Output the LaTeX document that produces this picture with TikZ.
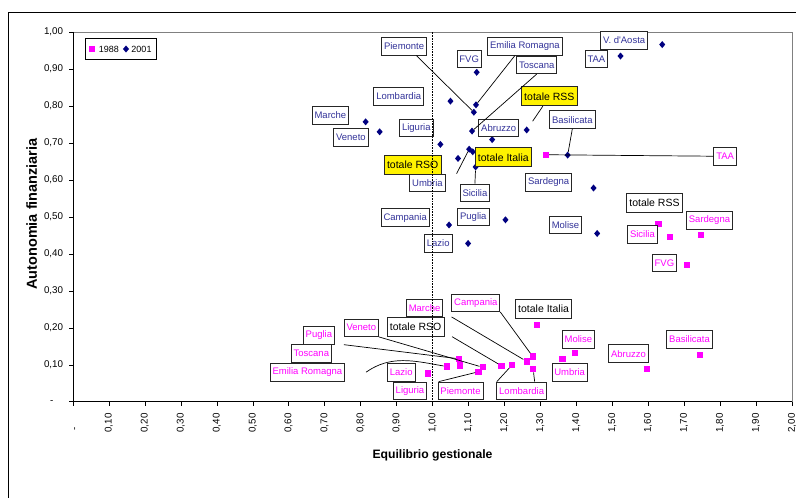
\documentclass[tikz,border=0pt]{standalone}
\usepackage{fontspec}
\setmainfont{Liberation Sans}
\usetikzlibrary{shapes.geometric,positioning}
\definecolor{navymark}{RGB}{0,0,128}
\definecolor{navytext}{RGB}{51,51,153}
\definecolor{pinkmark}{RGB}{255,0,255}
\definecolor{framegray}{RGB}{128,128,128}

\begin{document}
\begin{tikzpicture}[x=359.5pt, y=369.7pt,
    dia/.style={diamond, fill=navymark, inner sep=0pt, minimum width=6.2pt, minimum height=7.2pt},
    sq/.style={rectangle, fill=pinkmark, inner sep=0pt, minimum size=6.3pt},
    lab/.style={draw=black!85, line width=0.8pt, fill=white, inner xsep=2.4pt, inner ysep=0pt,
      minimum height=17.5pt, font=\fontsize{9.5}{11}\selectfont},
    lab01/.style={lab, text=navytext},
    lab88/.style={lab, text=pinkmark},
    tot/.style={lab, text=black, minimum height=19pt, inner xsep=2.7pt, font=\fontsize{10.5}{12}\selectfont},
    tot01/.style={tot, fill=yellow},
    lead/.style={line width=0.7pt, black},
    ylab/.style={anchor=east, inner xsep=5.7pt, inner ysep=0pt, font=\fontsize{9.8}{11}\selectfont},
    xlab/.style={anchor=east, rotate=90, inner xsep=7.6pt, inner ysep=0pt, font=\fontsize{9.8}{11}\selectfont},
    legt/.style={inner sep=0pt, font=\fontsize{9}{10}\selectfont}]
  \useasboundingbox (-73pt,-96.3pt) rectangle (723pt,401.7pt);
  % chart frame, plot area, axes
  \draw [line width=0.9pt] (-64.5pt,-96.3pt) -- (-64.5pt,389.7pt) -- (723pt,389.7pt);
  \draw [framegray, line width=0.8pt] (0,1) -- (2,1) -- (2,0);
  \draw [line width=0.9pt] (0,1) -- (0,0) -- (2,0);
  \foreach \i in {1,...,9} {
    \draw (0,\i/10) -- ++(-4pt,0) node [ylab] {0,\i0};
    \draw (\i/10,0) -- ++(0,-4pt) node [xlab] {0,\i0};
    \draw (1+\i/10,0) -- ++(0,-4pt) node [xlab] {1,\i0};
  }
  \draw (0,1) -- ++(-4pt,0) node [ylab] {1,00};
  \draw (1,0) -- ++(0,-4pt) node [xlab] {1,00};
  \draw (2,0) -- ++(0,-4pt) node [xlab] {2,00};
  \draw (0,0) -- ++(0,-4pt);
  \draw (0,0) -- ++(-4pt,0);
  \node [font=\fontsize{9.8}{11}\selectfont, inner sep=0pt] (yzero) at ([xshift=-21.3pt]0,0) {-};
  \node [font=\fontsize{9.8}{11}\selectfont, inner sep=0pt, rotate=90] (xzero) at ([shift={(3pt,-27.3pt)}]0,0) {-};
  \node [rotate=90, font=\bfseries\fontsize{14.5}{16}\selectfont] (ytitle) at (-0.1149,0.5077) {Autonomia finanziaria};
  \node [font=\bfseries\fontsize{12.2}{14}\selectfont] (xtitle) at (1.0,-0.144) {Equilibrio gestionale};
  % legend
  \draw [line width=0.7pt] (0.0353,0.927) rectangle (0.2309,0.983);
  \node [sq] (leg88) at (0.0529,0.954) {};
  \node [legt, right=3.2pt of leg88] (leg88t) {1988};
  \node [dia] (leg01) at (0.1474,0.954) {};
  \node [legt, right=2pt of leg01] (leg01t) {2001};
  % 2001
  \foreach \n/\x/\y in {vda01/1.639/0.966, taa01/1.523/0.935, fvg01/1.123/0.891,
      lomb01/1.050/0.813, emil01/1.121/0.803, piem01/1.115/0.783, marc01/0.814/0.757,
      vene01/0.853/0.730, tosc01/1.110/0.732, rss01/1.262/0.735, abru01/1.166/0.709,
      ligu01/1.022/0.696, umbr01/1.102/0.683, ital01/1.112/0.676, rso01/1.071/0.658,
      sici01/1.120/0.635, basi01/1.376/0.667, sard01/1.448/0.578, camp01/1.046/0.478,
      pugl01/1.203/0.492, lazi01/1.099/0.428, moli01/1.458/0.455}
    \node [dia] (\n) at (\x,\y) {};
  % 1988
  \foreach \n/\x/\y in {pugl88/1.074/0.116, tosc88/1.077/0.098, emil88/1.040/0.095,
      lazi88/0.988/0.076, vene88/1.140/0.093, ligu88/1.128/0.081, rso88/1.192/0.097,
      piem88/1.222/0.100, marc88/1.262/0.109, camp88/1.279/0.122, lomb88/1.280/0.088,
      ital88/1.291/0.2075, moli88/1.397/0.131, umbr88/1.362/0.115, abru88/1.596/0.088,
      basi88/1.745/0.1255, fvg88/1.707/0.369, sard88/1.746/0.450, sici88/1.661/0.4455,
      rss88/1.629/0.4815, taa88/1.315/0.668}
    \node [sq] (\n) at (\x,\y) {};
  % labels 2001
  \node [lab01] (piem01l) at (0.921,0.961) {Piemonte};
  \node [lab01] (fvg01l) at (1.102,0.9275) {FVG};
  \node [lab01] (emil01l) at (1.257,0.961) {Emilia Romagna};
  \node [lab01] (tosc01l) at (1.290,0.911) {Toscana};
  \node [lab01] (lomb01l) at (0.906,0.826) {Lombardia};
  \node [lab01] (marc01l) at (0.716,0.774) {Marche};
  \node [lab01] (vene01l) at (0.773,0.715) {Veneto};
  \node [lab01] (ligu01l) at (0.955,0.740) {Liguria};
  \node [lab01] (abru01l) at (1.184,0.741) {Abruzzo};
  \node [tot01] (rss01l) at (1.325,0.826) {totale RSS};
  \node [tot01] (ital01l) at (1.197,0.661) {totale Italia};
  \node [tot01] (rso01l) at (0.945,0.641) {totale RSO};
  \node [lab01] (sici01l) at (1.118,0.565) {Sicilia};
  \node [lab01] (umbr01l) at (0.986,0.592) {Umbria};
  \node [lab01] (camp01l) at (0.924,0.498) {Campania};
  \node [lab01] (pugl01l) at (1.1135,0.4996) {Puglia};
  \node [lab01] (lazi01l) at (1.016,0.4285) {Lazio};
  \node [lab01] (vda01l) at (1.533,0.977) {V. d\textquotesingle Aosta};
  \node [lab01] (taa01l) at (1.456,0.9275) {TAA};
  \node [lab01] (basi01l) at (1.389,0.763) {Basilicata};
  \node [lab01] (sard01l) at (1.323,0.593) {Sardegna};
  \node [lab01] (moli01l) at (1.370,0.4785) {Molise};
  % labels 1988
  \node [lab88] (taa88l) at (1.814,0.664) {TAA};
  \node [tot] (rss88l) at (1.6175,0.538) {totale RSS};
  \node [lab88] (sard88l) at (1.7705,0.490) {Sardegna};
  \node [lab88] (sici88l) at (1.584,0.452) {Sicilia};
  \node [lab88] (fvg88l) at (1.645,0.3757) {FVG};
  \node [tot] (ital88l) at (1.309,0.2513) {totale Italia};
  \node [lab88] (moli88l) at (1.4056,0.169) {Molise};
  \node [lab88] (umbr88l) at (1.3816,0.079) {Umbria};
  \node [lab88] (abru88l) at (1.545,0.130) {Abruzzo};
  \node [lab88] (basi88l) at (1.715,0.169) {Basilicata};
  \node [lab88] (lomb88l) at (1.248,0.0295) {Lombardia};
  \node [lab88] (piem88l) at (1.078,0.0295) {Piemonte};
  \node [lab88] (ligu88l) at (0.9374,0.0295) {Liguria};
  \node [lab88] (lazi88l) at (0.913,0.0798) {Lazio};
  \node [lab88] (emil88l) at (0.652,0.0798) {Emilia Romagna};
  \node [lab88] (tosc88l) at (0.663,0.130) {Toscana};
  \node [lab88] (pugl88l) at (0.684,0.179) {Puglia};
  \node [lab88] (vene88l) at (0.802,0.200) {Veneto};
  \node [tot] (rso88l) at (0.953,0.2026) {totale RSO};
  \node [lab88] (marc88l) at (0.978,0.254) {Marche};
  \node [lab88] (camp88l) at (1.1205,0.2675) {Campania};
  % leader lines
  \draw [lead] ([xshift=-10.6pt]piem01l.south east) -- (piem01);
  \draw [lead] ([xshift=-10pt]emil01l.south) -- (emil01);
  \draw [lead] (tosc01l.south) -- (tosc01);
  \draw [lead, shorten >=8pt] ([xshift=-6.5pt]rss01l.south) -- (rss01);
  \draw [lead] ([xshift=11pt]umbr01l.north east) -- (umbr01);
  \draw [lead] (sici01l.north) -- (sici01);
  \draw [lead] (basi01l.south) -- (basi01);
  \draw [lead] (taa88l.west) -- (taa88);
  \draw [lead] ([xshift=9pt]pugl88l.south east) -- (pugl88);
  \draw [lead] (vene88l.south east) -- (vene88);
  \draw [lead] ([xshift=21pt]emil88l.east) to [out=35, in=170] (emil88);
  \draw [lead] ([xshift=7.7pt]rso88l.south east) -- (rso88);
  \draw [lead] ([xshift=8.4pt]marc88l.south east) -- (marc88);
  \draw [lead] (camp88l.south east) -- (camp88);
  \draw [lead] ([xshift=11.6pt]ligu88l.north east) -- (ligu88);
  \draw [lead] ([xshift=13.4pt]piem88l.north east) -- (piem88);
  \draw [lead] ([xshift=13pt]lomb88l.north) -- (lomb88);
  % reference line at 1,00
  \draw [densely dotted, line width=0.6pt] (1,0) -- (1,1);
\end{tikzpicture}
\end{document}
